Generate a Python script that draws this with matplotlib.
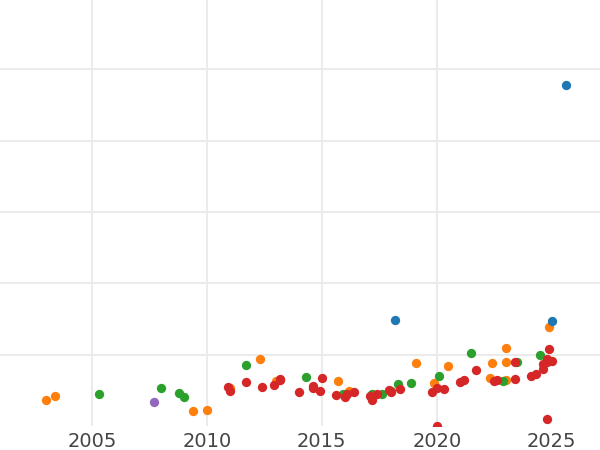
import matplotlib

matplotlib.use("Agg")
import matplotlib.pyplot as plt

# values (y axis has no labels, units = gridline steps)
orange_year = [2003.0, 2003.4, 2009.4, 2010.0, 2011.0, 2012.3, 2013.0, 2015.7, 2016.2,
               2019.1, 2019.9, 2020.5, 2022.4, 2022.3, 2023.0, 2023.0, 2024.9, 2023.0]
orange_val = [0.36, 0.42, 0.21, 0.22, 0.53, 0.94, 0.63, 0.63, 0.49,
              0.88, 0.60, 0.84, 0.88, 0.67, 1.09, 0.90, 1.39, 0.65]

green_year = [2005.3, 2008.0, 2008.8, 2009.0, 2011.7, 2014.3, 2015.9, 2017.2, 2017.6,
              2018.0, 2018.3, 2018.9, 2020.1, 2021.5, 2022.9, 2023.5, 2024.5]
green_val = [0.45, 0.53, 0.46, 0.41, 0.86, 0.69, 0.45, 0.45, 0.45,
             0.49, 0.59, 0.60, 0.70, 1.02, 0.63, 0.90, 1.00]

purple_year = [2007.7]
purple_val = [0.34]

blue_year = [2025.6, 2018.2, 2025.0]
blue_val = [4.78, 1.49, 1.47]

red_year = [2010.9, 2011.0, 2011.7, 2012.4, 2012.9, 2013.2, 2013.2, 2014.0, 2014.6, 2014.6,
            2015.0, 2014.9, 2015.6, 2016.0, 2016.1, 2016.4, 2017.1, 2017.2, 2017.4, 2017.9,
            2018.0, 2018.4, 2019.8, 2020.0, 2020.0, 2020.3, 2021.0, 2021.2, 2021.7, 2022.5,
            2022.6, 2023.4, 2023.4, 2024.1, 2024.3, 2024.6, 2024.6, 2024.8, 2024.8, 2024.9,
            2024.8, 2025.0]
red_val = [0.55, 0.49, 0.62, 0.55, 0.58, 0.66, 0.65, 0.48, 0.56, 0.53,
           0.67, 0.49, 0.43, 0.41, 0.45, 0.48, 0.42, 0.36, 0.45, 0.50,
           0.48, 0.52, 0.48, 0.53, 0.00, 0.52, 0.62, 0.65, 0.79, 0.63,
           0.65, 0.90, 0.66, 0.70, 0.73, 0.80, 0.87, 0.90, 0.10, 1.08,
           0.94, 0.91]

x_ticks = [2005, 2010, 2015, 2020, 2025]

fig = plt.figure(figsize=(6, 4.5), dpi=100)
ax = fig.add_axes([0, 0.053, 1, 0.947])

series = [
    (orange_year, orange_val, "#ff7f0e"),
    (green_year, green_val, "#2ca02c"),
    (purple_year, purple_val, "#9467bd"),
    (blue_year, blue_val, "#1f77b4"),
    (red_year, red_val, "#d62728"),
]
for xs, ys, col in series:
    ax.scatter(xs, ys, s=45, color=col, linewidths=0, zorder=3)

ax.set_xlim(2001, 2027.1)
ax.set_ylim(0, 5.97)
ax.set_xticks(x_ticks)
ax.set_yticks([1, 2, 3, 4, 5])
ax.set_yticklabels([])
ax.tick_params(length=0, labelsize=14, labelcolor="#444444", pad=4)
ax.grid(True, color="#ebebeb", linewidth=1.5)
ax.get_xgridlines()[-1].set_visible(False)
for s in ax.spines.values():
    s.set_visible(False)

fig.savefig("out.png", dpi=100)
